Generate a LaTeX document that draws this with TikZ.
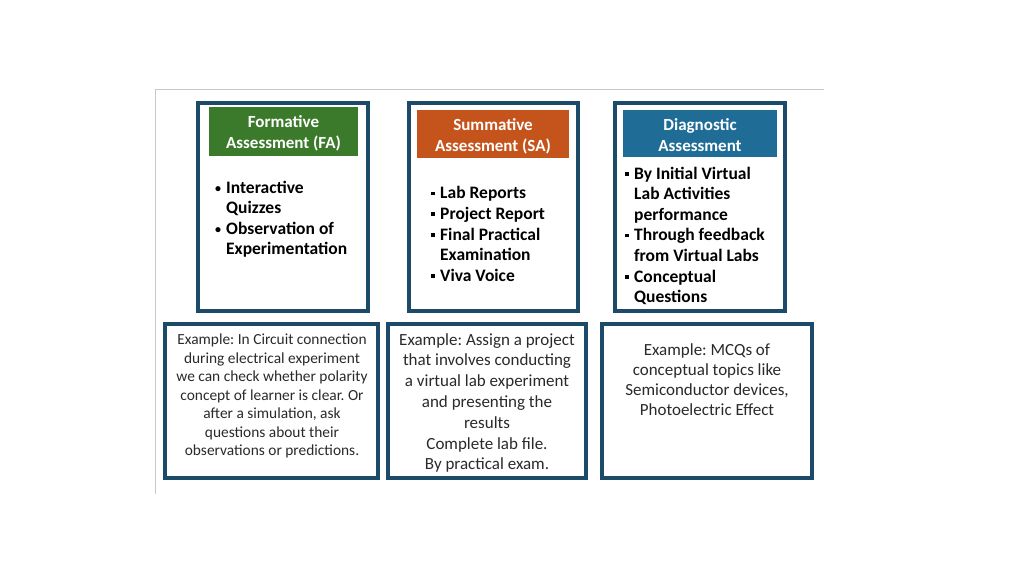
\documentclass[tikz,border=0pt]{standalone}
\usepackage{fontspec}
\setmainfont{Carlito}
\frenchspacing
\begin{document}
\begin{tikzpicture}[x=1pt,y=-1pt,
  frame/.style={draw=navy,line width=3.4pt},
  head/.style={text=white,font=\bfseries\fontsize{17}{20.5}\selectfont,align=center,anchor=north,inner sep=0pt},
  blist/.style={font=\bfseries\fontsize{17.5}{20.6}\selectfont,align=left,anchor=north west,inner sep=0pt,text=black},
  ex/.style={font=\fontsize{15.4}{18.5}\selectfont,align=center,anchor=north,inner sep=0pt,text=extext}]
\definecolor{navy}{HTML}{1C4B69}
\definecolor{gfa}{HTML}{3B7A2B}
\definecolor{osa}{HTML}{C4541C}
\definecolor{bda}{HTML}{1F6D96}
\definecolor{extext}{HTML}{2A2A2A}
\definecolor{slide}{HTML}{C8C8C8}
\newcommand{\sqb}{\makebox[9pt][l]{\rule[0.2em]{3.6pt}{3.6pt}}}
\newcommand{\rb}{\makebox[11pt][l]{\raisebox{0.05em}{\fontsize{12}{12}\selectfont\textbullet}}}
\useasboundingbox (0,0) rectangle (1024,576);
\fill[white] (0,0) rectangle (1024,576);
% slide frame
\coordinate (s1) at (155,494);
\coordinate (s2) at (155,89);
\coordinate (s3) at (824,89);
\draw[slide,line width=1pt] (s1) -- (s2) -- (s3);
% top boxes
\draw[frame] (198,103) rectangle (368,311);
\draw[frame] (409,103) rectangle (578,311);
\draw[frame] (615,103) rectangle (785,311);
\fill[gfa] (209,107) rectangle (358,156);
\fill[osa] (417,110) rectangle (569,158);
\fill[bda] (623,110) rectangle (777,157);
\node[head] (hfa) at (283.5,115.5) {Formative\\Assessment (FA)};
\node[head] (hsa) at (493,118.5) {Summative\\Assessment (SA)};
\node[head] (hda) at (700,118.5) {Diagnostic\\Assessment};
\node[blist] (lfa) at (215,180.5) {\rb Interactive\\\phantom{\rb}Quizzes\\\rb Observation of\\\phantom{\rb}Experimentation};
\node[blist] (lsa) at (431,186.5) {\sqb Lab Reports\\\sqb Project Report\\\sqb Final Practical\\\phantom{\sqb}Examination\\\sqb Viva Voice};
\node[blist] (lda) at (625,166.5) {\sqb By Initial Virtual\\\phantom{\sqb}Lab Activities\\\phantom{\sqb}performance\\\sqb Through feedback\\\phantom{\sqb}from Virtual Labs\\\sqb Conceptual\\\phantom{\sqb}Questions};
% bottom boxes
\draw[frame] (165,324) rectangle (378,478);
\draw[frame] (388,324) rectangle (586,478);
\draw[frame] (602,324) rectangle (812,478);
\node[ex] (efa) at (272,334) {Example: In Circuit connection\\during electrical experiment\\we can check whether polarity\\concept of learner is clear. Or\\after a simulation, ask\\questions about their\\observations or predictions.};
\node[ex,font=\fontsize{17}{20.8}\selectfont] (esa) at (487,333) {Example: Assign a project\\that involves conducting\\a virtual lab experiment\\and presenting the\\results\\Complete lab file.\\By practical exam.};
\node[ex,font=\fontsize{17}{20.2}\selectfont] (eda) at (707,343) {Example: MCQs of\\conceptual topics like\\Semiconductor devices,\\Photoelectric Effect};
\end{tikzpicture}
\end{document}
